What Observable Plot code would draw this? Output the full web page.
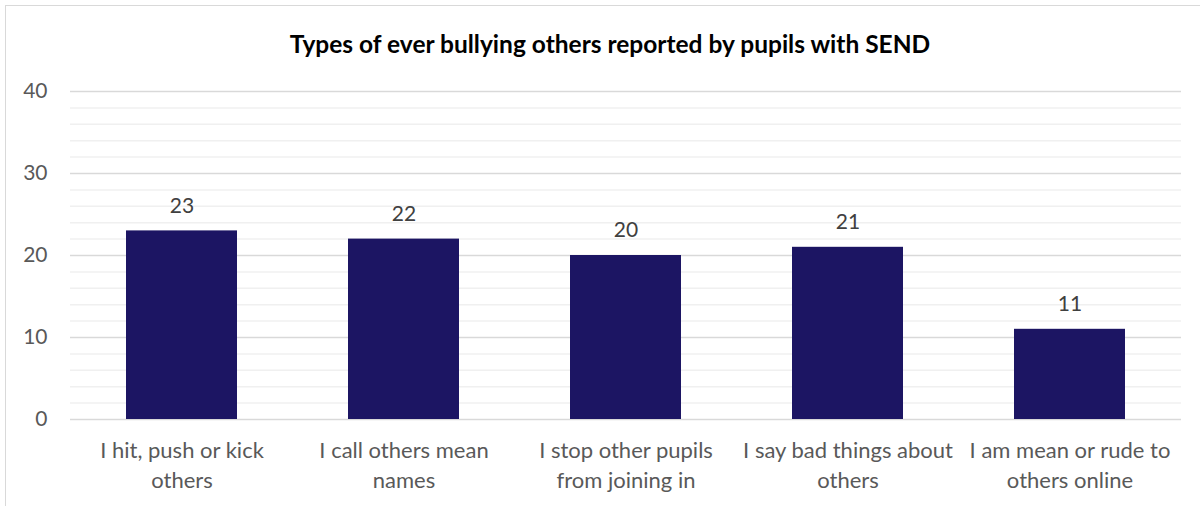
<!DOCTYPE html>
<html>
<head>
<meta charset="utf-8">
<script src="https://cdn.jsdelivr.net/npm/d3@7"></script>
<script src="https://cdn.jsdelivr.net/npm/@observablehq/plot@0.6"></script>
<style>
  html, body { margin: 0; padding: 0; background: #fff; }
  #wrap { position: relative; width: 1200px; height: 506px; overflow: hidden; font-family: Lato, "Open Sans", sans-serif; }
  #frame { position: absolute; left: 5px; top: 5px; width: 1200px; height: 520px; border: 1px solid #d9d9d9; box-sizing: border-box; }
  #title { position: absolute; left: 0; top: 29px; width: 1220px; text-align: center; font-weight: bold; font-size: 24.5px; color: #000; }
  #chart { position: absolute; left: 0; top: 0; }
</style>
</head>
<body>
<div id="wrap">
  <div id="frame"></div>
  <div id="chart"></div>
  <div id="title">Types of ever bullying others reported by pupils with SEND</div>
</div>
<script>
const categories = [
  "I hit, push or kick\nothers",
  "I call others mean\nnames",
  "I stop other pupils\nfrom joining in",
  "I say bad things about\nothers",
  "I am mean or rude to\nothers online"
];
const values = [23, 22, 20, 21, 11];
const yTicks = [0, 10, 20, 30, 40];
const yMinor = [2, 4, 6, 8, 12, 14, 16, 18, 22, 24, 26, 28, 32, 34, 36, 38];

const data = categories.map((c, i) => ({category: c, value: values[i]}));

const chart = Plot.plot({
  width: 1200,
  height: 506,
  marginLeft: 70,
  marginRight: 19,
  marginTop: 91,
  marginBottom: 87,
  style: {fontFamily: "Lato, 'Open Sans', sans-serif", background: "transparent"},
  x: {domain: categories, paddingInner: 0.5, paddingOuter: 0.25, label: null},
  y: {domain: [0, 40], label: null},
  marks: [
    Plot.ruleY(yMinor, {stroke: "#f0f0f0", strokeWidth: 1.5}),
    Plot.ruleY(yTicks, {stroke: "#d9d9d9", strokeWidth: 1.5}),
    Plot.barY(data, {x: "category", y: "value", fill: "#1c1563"}),
    Plot.text(data, {x: "category", y: "value", text: d => String(d.value), dy: -25, fontSize: 21, fill: "#404040"}),
    Plot.axisY({ticks: yTicks, tickSize: 0, tickPadding: 23, fontSize: 21, color: "#595959"}),
    Plot.axisX({tickSize: 0, tickPadding: 17, fontSize: 22, lineHeight: 1.36, color: "#595959"})
  ]
});
document.getElementById("chart").appendChild(chart);
</script>
</body>
</html>
